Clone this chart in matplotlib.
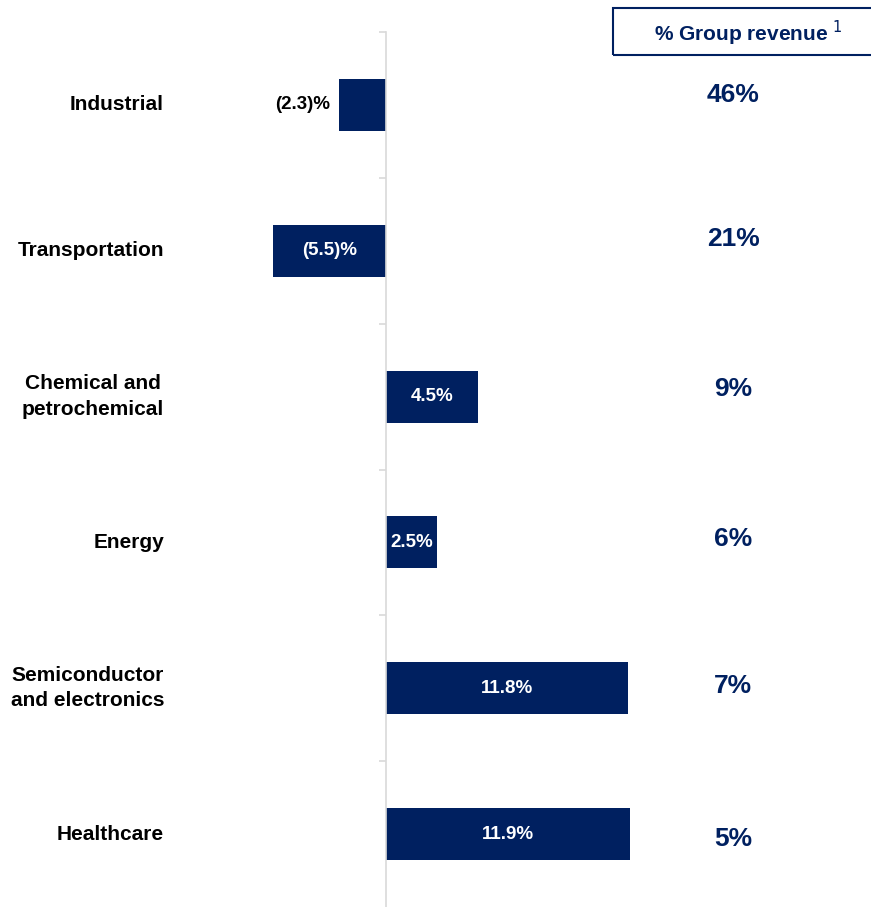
import matplotlib.pyplot as plt
import matplotlib.transforms as mtransforms
from matplotlib.patches import Rectangle

plt.rcParams['font.family'] = ['Liberation Sans', 'DejaVu Sans']

# Data
categories = ['Industrial', 'Transportation', 'Chemical and\npetrochemical',
              'Energy', 'Semiconductor\nand electronics', 'Healthcare']
growth = [-2.3, -5.5, 4.5, 2.5, 11.8, 11.9]
growth_labels = ['(2.3)%', '(5.5)%', '4.5%', '2.5%', '11.8%', '11.9%']
revenue_share = ['46%', '21%', '9%', '6%', '7%', '5%']
# small vertical nudges of the share labels (in rows)
share_nudge = [-0.07, -0.08, -0.055, -0.02, -0.015, 0.035]

navy = '#002060'

W, H = 871, 907
fig = plt.figure(figsize=(W / 100, H / 100), dpi=100)

# axes from x=180 to 660 px, y=32 to 907 px
ax = fig.add_axes([180 / W, 0, 480 / W, (H - 32) / H])
px = 20.5  # pixels per percentage point
ax.set_xlim(-206 / px, 274 / px)
ax.set_ylim(len(categories) - 0.5, -0.5)

y = list(range(len(categories)))
ax.barh(y, growth, height=0.356, color=navy, left=0)

for i, (v, lab) in enumerate(zip(growth, growth_labels)):
    if v < 0 and abs(v) < 3:
        # short negative bar: label sits outside, to the left
        ax.text(v - 0.45, i, lab, ha='right', va='center', fontsize=13.5,
                fontweight='bold', color='black')
    else:
        ax.text(v / 2, i, lab, ha='center', va='center', fontsize=13.5,
                fontweight='bold', color='white')

# axis styling
for s in ['top', 'right', 'bottom']:
    ax.spines[s].set_visible(False)
ax.spines['left'].set_position(('data', 0))
ax.spines['left'].set_color('#d9d9d9')
ax.spines['left'].set_linewidth(1.2)
ax.set_xticks([])
ax.set_yticks([i - 0.5 for i in range(len(categories))])
ax.set_yticklabels([])
ax.tick_params(axis='y', direction='out', length=5, color='#d9d9d9', width=1.2)

# category labels and revenue share
trans = mtransforms.blended_transform_factory(fig.transFigure, ax.transData)
for i, (cat, share) in enumerate(zip(categories, revenue_share)):
    ax.text(164 / W, i, cat, transform=trans, ha='right', va='center',
            multialignment='center', fontsize=15, fontweight='bold',
            color='black', linespacing=1.42)
    ax.text(733 / W, i + share_nudge[i], share, transform=trans, ha='center',
            va='center', fontsize=19, fontweight='bold', color=navy)

# header box
box = Rectangle((613 / W, 1 - 55 / H), 270 / W, 47 / H, transform=fig.transFigure,
                fill=False, edgecolor=navy, linewidth=1.5, clip_on=False)
fig.patches.append(box)
fig.text(748 / W, 1 - 33 / H, '% Group revenue $^{1}$', ha='center', va='center',
         fontsize=15, fontweight='bold', color=navy)

fig.savefig('out.png', dpi=100)
